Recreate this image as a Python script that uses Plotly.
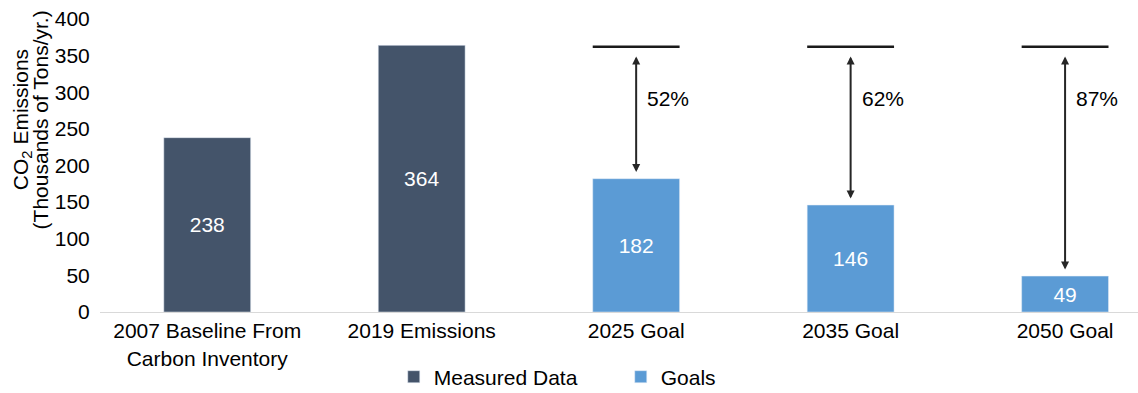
import plotly.graph_objects as go

categories = ["2007 Baseline From<br>Carbon Inventory", "2019 Emissions", "2025 Goal", "2035 Goal", "2050 Goal"]
measured_idx = [0, 1]
measured_vals = [238, 364]
goal_idx = [2, 3, 4]
goal_vals = [182, 146, 49]
goal_pcts = ["52%", "62%", "87%"]
ref_level = 362
yticks = [0, 50, 100, 150, 200, 250, 300, 350, 400]
ytitle_lines = ["CO<sub>2</sub> Emissions", "(Thousands of Tons/yr.)"]

DARK = "#44546A"
LIGHT = "#5B9BD5"
FONT = "Liberation Sans, Arial, sans-serif"
FS = 21
BW = 0.405

fig = go.Figure()
fig.add_trace(go.Bar(x=measured_idx, y=measured_vals, name="Measured Data", marker_color=DARK,
                     width=BW, text=[str(v) for v in measured_vals], textposition="inside",
                     insidetextanchor="middle", textfont=dict(color="white", size=FS, family=FONT)))
fig.add_trace(go.Bar(x=goal_idx, y=goal_vals, name="Goals", marker_color=LIGHT,
                     width=BW, text=[str(v) for v in goal_vals], textposition="inside",
                     insidetextanchor="middle", textfont=dict(color="white", size=FS, family=FONT)))

for i, v, p in zip(goal_idx, goal_vals, goal_pcts):
    fig.add_shape(type="line", x0=i - BW / 2, x1=i + BW / 2, y0=ref_level, y1=ref_level,
                  xref="x", yref="y", line=dict(color="#1a1a1a", width=2.5))
    fig.add_annotation(x=i, y=v + 9, ax=i, ay=ref_level - 11, xref="x", yref="y",
                       axref="x", ayref="y", showarrow=True, arrowhead=2, arrowside="end+start",
                       arrowsize=0.8, arrowwidth=2, arrowcolor="#262626", text="")
    fig.add_annotation(x=i + 0.042, y=292, xref="x", yref="y", text=p, showarrow=False,
                       xanchor="left", font=dict(size=FS, color="#000000", family=FONT))

for xp, t in zip([-0.0751, -0.0575], ytitle_lines):
    fig.add_annotation(text=t, textangle=-90, xref="paper", yref="paper", x=xp, y=0.655,
                       xanchor="center", yanchor="middle", showarrow=False,
                       font=dict(size=FS, family=FONT, color="#000000"))

fig.update_layout(
    width=1138, height=393,
    margin=dict(l=100, r=0, t=19, b=81, autoexpand=False),
    paper_bgcolor="white", plot_bgcolor="white",
    barmode="overlay",
    font=dict(family=FONT, size=FS, color="#000000"),
    showlegend=True,
    legend=dict(orientation="h", x=0.283, xanchor="left", y=-0.222, yanchor="middle",
                font=dict(size=FS, family=FONT), itemwidth=30, entrywidth=182, entrywidthmode="pixels",
                itemclick=False),
    xaxis=dict(range=[-0.5, 4.34], tickvals=list(range(5)), ticktext=categories,
               showline=True, linecolor="#D9D9D9", linewidth=1, showgrid=False, ticks="",
               tickfont=dict(size=FS, family=FONT), zeroline=False),
    yaxis=dict(range=[0, 400], tickvals=yticks, showgrid=False, zeroline=False, showline=False,
               ticks="outside", ticklen=5, tickcolor="rgba(0,0,0,0)",
               tickfont=dict(size=FS, family=FONT)),
)

fig.write_html("out.html")
